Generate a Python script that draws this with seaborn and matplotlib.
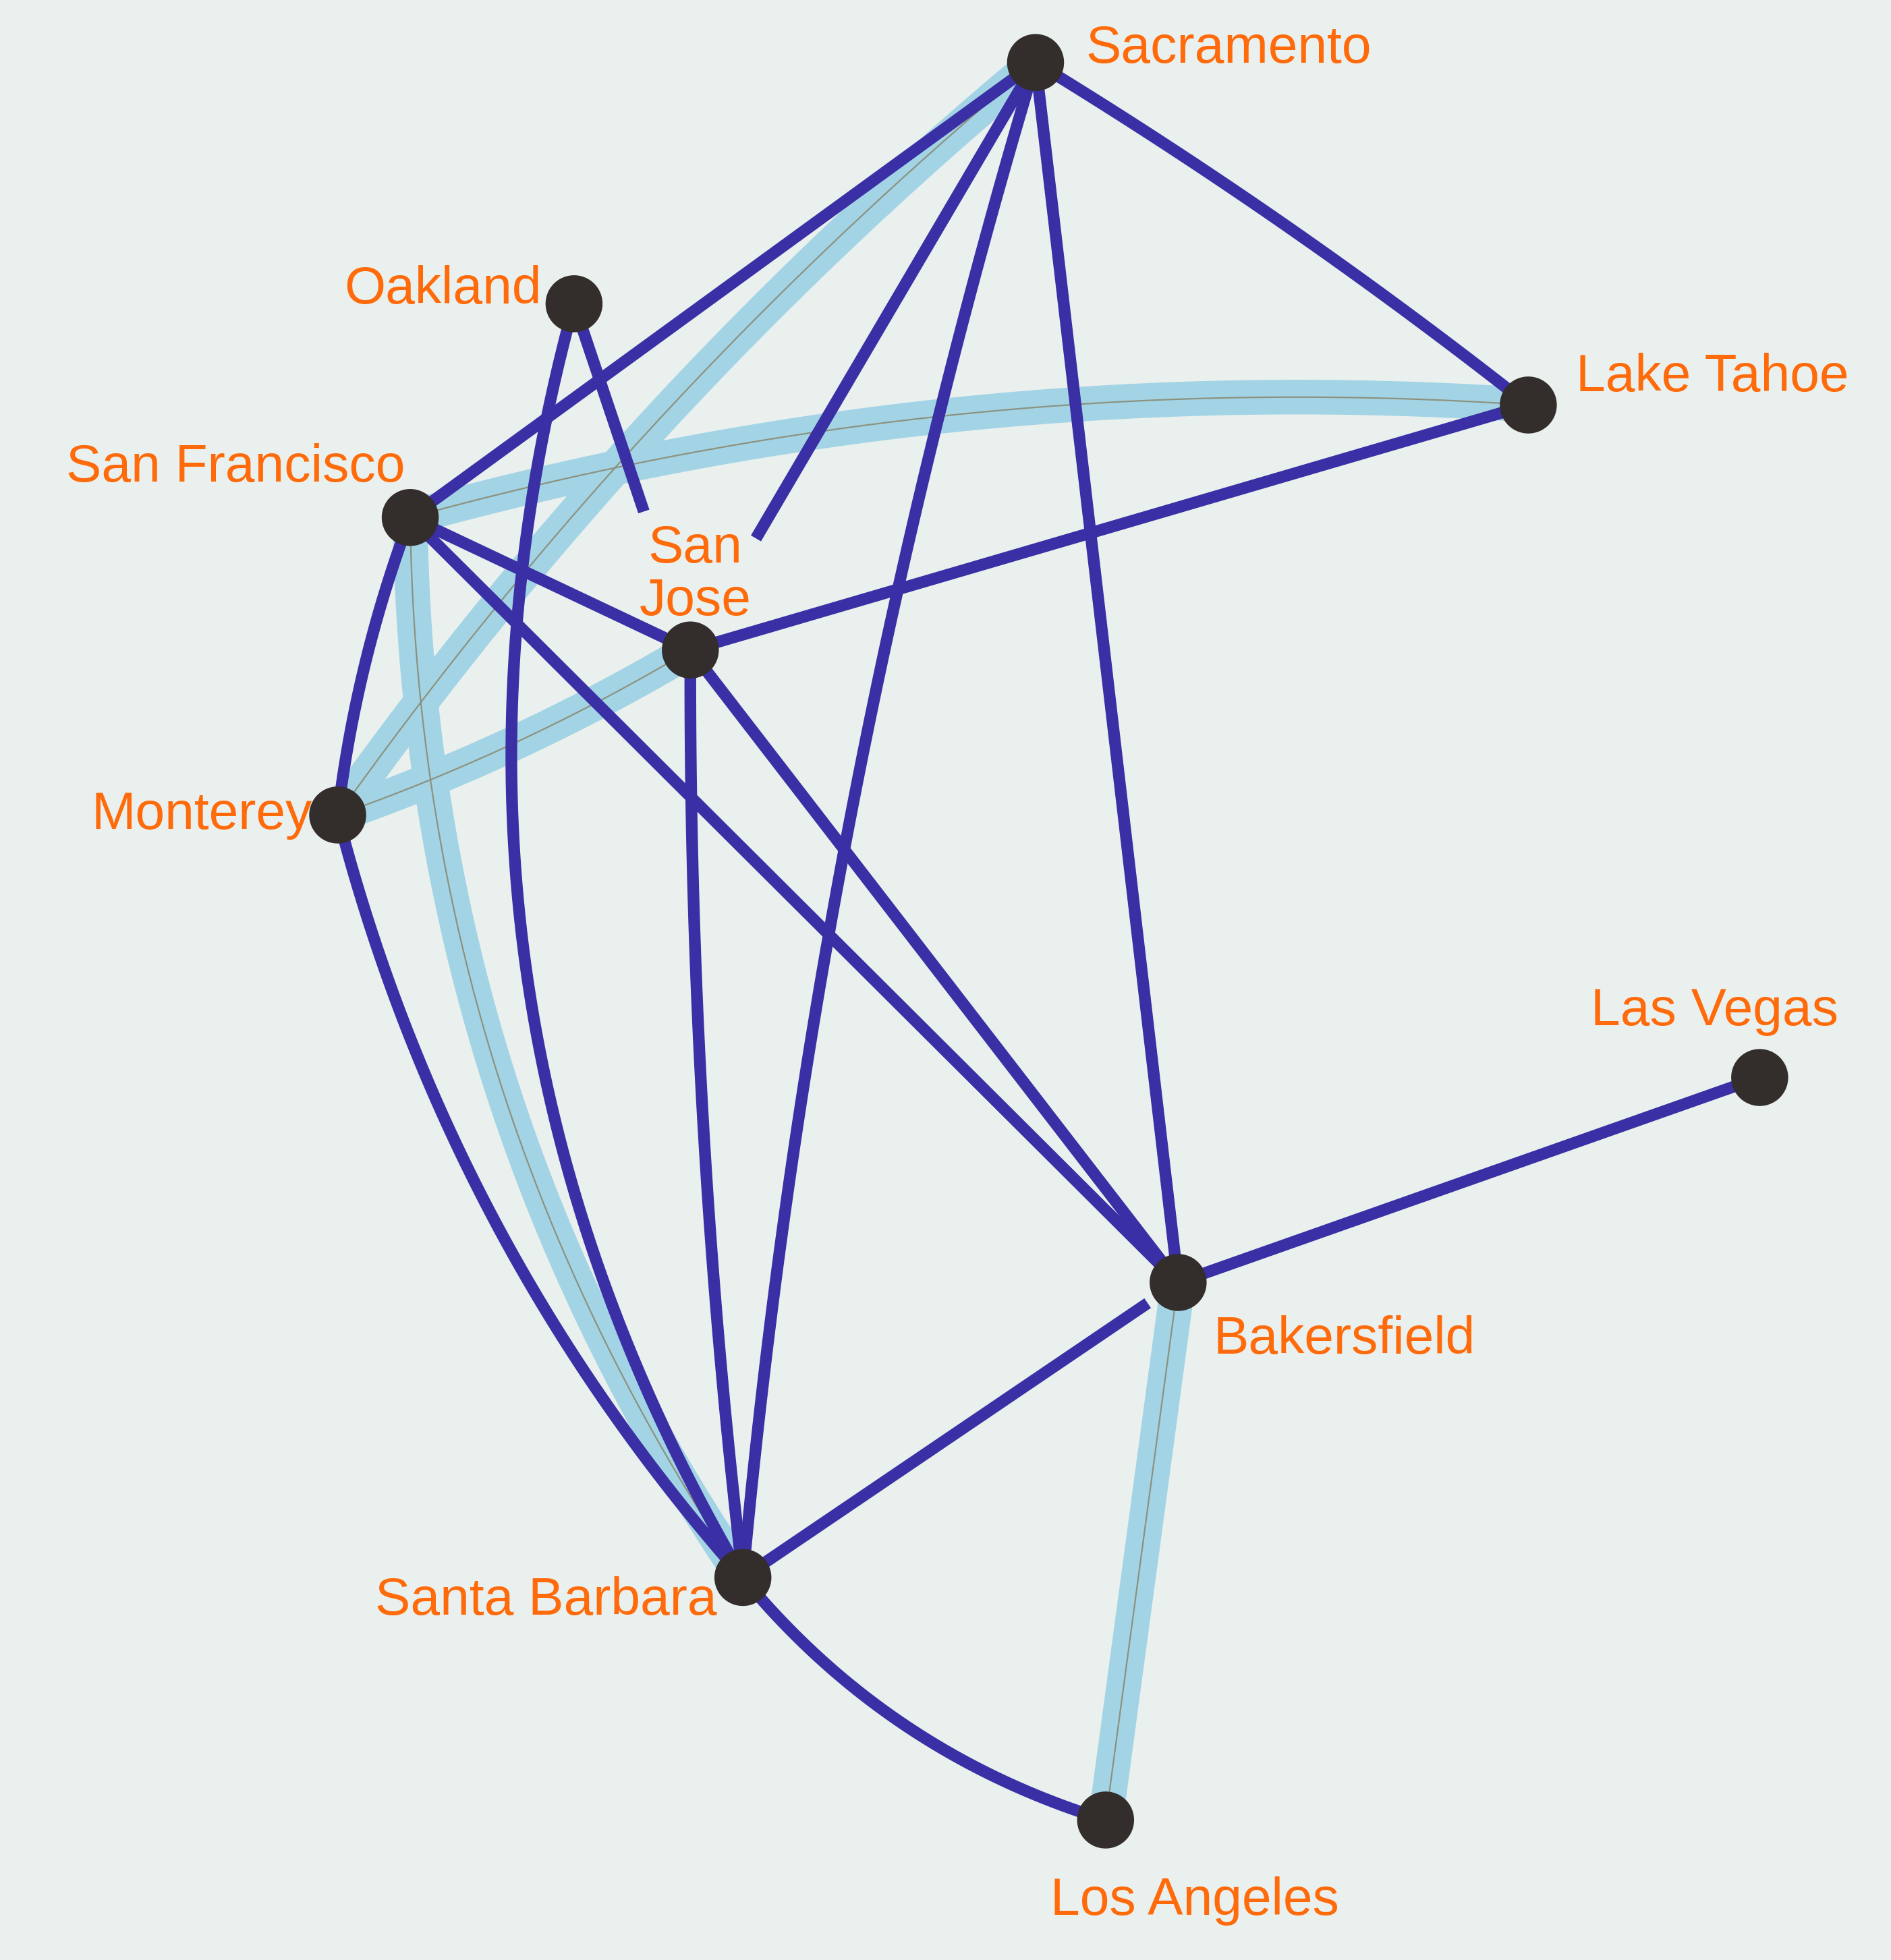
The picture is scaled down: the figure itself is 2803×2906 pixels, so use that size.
import numpy as np
import pandas as pd
import matplotlib
matplotlib.use("Agg")
import matplotlib.pyplot as plt
import seaborn as sns

# Cities and their positions on the drawing (x right, y down)
cities = ["Sacramento", "Oakland", "Lake Tahoe", "San Francisco", "San Jose",
          "Monterey", "Las Vegas", "Bakersfield", "Santa Barbara", "Los Angeles"]
city_x = [828, 459, 1222, 328, 552, 270, 1407, 942, 594, 884]
city_y = [50, 243, 324, 414, 520, 652, 862, 1026, 1262, 1456]
labels = ["Sacramento", "Oakland", "Lake Tahoe", "San Francisco", "San\nJose",
          "Monterey", "Las Vegas", "Bakersfield", "Santa Barbara", "Los Angeles"]

# Road links (dark) : from, to
road_from = ["Sacramento", "Sacramento", "Sacramento", "Sacramento", "Sacramento",
             "Oakland", "Oakland", "San Francisco", "San Francisco", "San Francisco",
             "San Jose", "San Jose", "San Jose", "Monterey", "Bakersfield",
             "Santa Barbara", "Santa Barbara"]
road_to = ["San Francisco", "San Jose", "Santa Barbara", "Bakersfield", "Lake Tahoe",
           "San Jose", "Santa Barbara", "Monterey", "San Jose", "Bakersfield",
           "Lake Tahoe", "Santa Barbara", "Bakersfield", "Santa Barbara", "Las Vegas",
           "Bakersfield", "Los Angeles"]

# Highlighted links (light band)
path_from = ["San Francisco", "Sacramento", "San Jose", "San Francisco", "Bakersfield"]
path_to = ["Lake Tahoe", "Monterey", "Monterey", "Santa Barbara", "Los Angeles"]

# drawing style per link: bend of the curve, part of the link drawn
road_bend = [0, 0, 0.05, 0, -0.03, 0, 0.21, 0.06, 0, 0, 0, 0.03, 0, 0.12, 0, 0, 0.15]
road_part = [1, 0.81, 1, 1, 1, 0.6, 1, 1, 1, 1, 1, 1, 1, 1, 1, 0.93, 1]
path_bend = [-0.085, 0.065, -0.05, 0.15, 0.0]

BG = "#eaf0ee"
ROAD = "#3a2fa5"
BAND = "#a3d4e5"
MID = "#8c927f"
DOT = "#332d2b"
TXT = "#ff6a0a"

pos = dict(zip(cities, zip(city_x, city_y)))


def curve(a, b, bend, part=1.0, n=120):
    p0 = np.array(pos[a], float)
    p2 = np.array(pos[b], float)
    d = p2 - p0
    length = np.hypot(*d)
    normal = np.array([-d[1], d[0]]) / length
    p1 = (p0 + p2) / 2 + normal * bend * length
    t = np.linspace(0, part, n)[:, None]
    pts = (1 - t) ** 2 * p0 + 2 * t * (1 - t) * p1 + t ** 2 * p2
    return pts[:, 0], pts[:, 1]


sns.set_theme(style="white")
plt.rcParams["font.family"] = ["Liberation Sans", "DejaVu Sans"]

fig = plt.figure(figsize=(28.03, 29.06), dpi=100, facecolor=BG)
ax = fig.add_axes([0, 0, 1, 1])
ax.set_facecolor(BG)

# highlighted route bands
for a, b, bend in zip(path_from, path_to, path_bend):
    x, y = curve(a, b, bend)
    ax.plot(x, y, color=BAND, lw=37, solid_capstyle="butt", zorder=1)
    ax.plot(x, y, color=MID, lw=1.6, zorder=1.5)

# road links
for a, b, bend, part in zip(road_from, road_to, road_bend, road_part):
    x, y = curve(a, b, bend, part)
    ax.plot(x, y, color=ROAD, lw=12.5, solid_capstyle="butt", zorder=2)

nodes = pd.DataFrame({"city": cities, "x": city_x, "y": city_y})
sns.scatterplot(data=nodes, x="x", y="y", s=3700, color=DOT, edgecolor="none",
                legend=False, ax=ax, zorder=5)

# label anchors: left/centre x, baseline of each line
label_xy = {
    "Sacramento": (868, [50], "left"),
    "Oakland": (275, [243], "left"),
    "Lake Tahoe": (1260, [313], "left"),
    "San Francisco": (53, [385], "left"),
    "San Jose": (556, [450, 492], "center"),
    "Monterey": (73, [663], "left"),
    "Las Vegas": (1272, [820], "left"),
    "Bakersfield": (970, [1083], "left"),
    "Santa Barbara": (300, [1292], "left"),
    "Los Angeles": (840, [1532], "left"),
}
for c, lab in zip(cities, labels):
    lx, lys, ha = label_xy[c]
    for part, ly in zip(lab.split("\n"), lys):
        ax.text(lx, ly, part, ha=ha, va="baseline", fontsize=56.5, color=TXT, zorder=6)

ax.set_xlim(0, 1512)
ax.set_ylim(1568, 0)
ax.set_axis_off()

fig.savefig("out.png", dpi=100, facecolor=BG)
